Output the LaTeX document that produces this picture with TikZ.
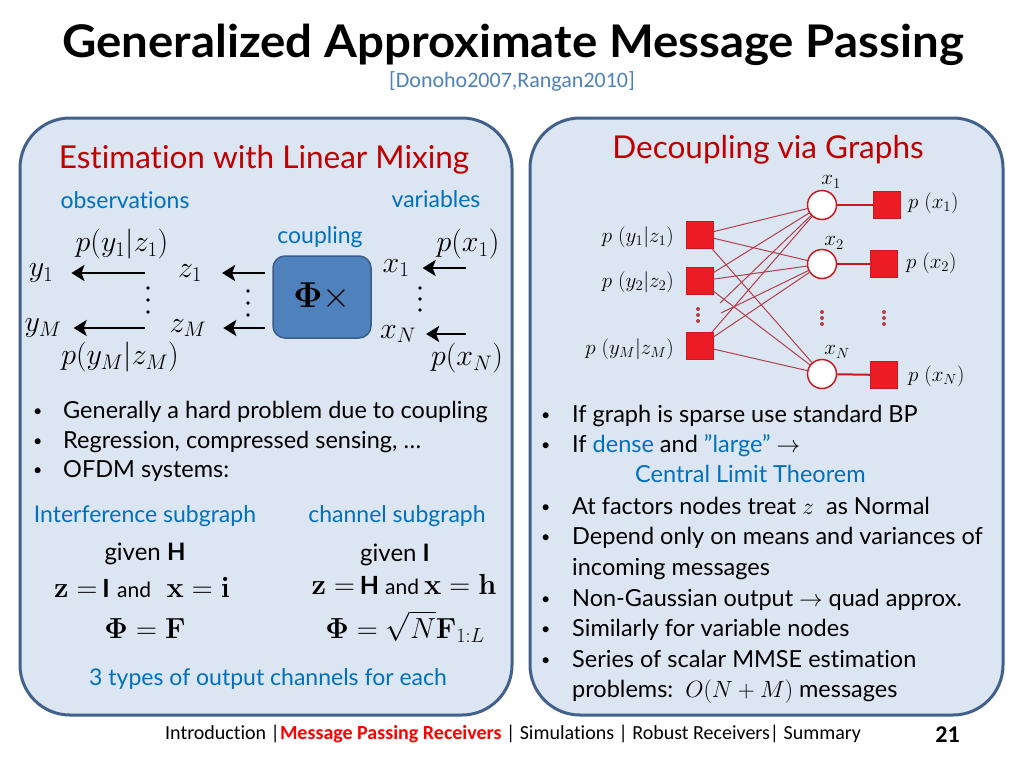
\documentclass[tikz,border=0pt]{standalone}
\usepackage{fix-cm}
\usepackage{amsmath,amssymb}
\usepackage{graphicx}
\usepackage[no-math]{fontspec}
\setmainfont{Lato}[Ligatures=NoCommon]
\newfontfamily\calib{Carlito}[Ligatures=NoCommon]
\usetikzlibrary{arrows.meta}
\newcommand{\fs}[1]{\fontsize{#1}{#1}\selectfont}
\definecolor{panelfill}{HTML}{DCE6F2}
\definecolor{panelline}{HTML}{41618C}
\definecolor{titlered}{HTML}{C00000}
\definecolor{txtblue}{HTML}{0070C0}
\definecolor{citeblue}{HTML}{4F81BD}
\definecolor{boxfill}{HTML}{4F81BD}
\definecolor{boxline}{HTML}{385D8A}
\definecolor{facred}{HTML}{EC1C24}
\definecolor{edgered}{HTML}{B0404A}
\definecolor{footred}{HTML}{FF0000}
\begin{document}
\begin{tikzpicture}[x=1pt,y=-1pt,
  panel/.style={draw=panelline, line width=3pt, fill=panelfill, rounded corners=50pt, inner sep=0},
  ptitle/.style={text=titlered, font=\fs{31.5}, inner sep=0, anchor=base},
  btxt/.style={text=txtblue, font=\fs{23}, inner sep=0, anchor=base},
  body/.style={font=\fs{23.5}, inner sep=0, anchor=base west},
  plain/.style={font=\fs{24}, inner sep=0, anchor=base},
  mth/.style={font=\fs{30}, inner sep=0},
  arr/.style={line width=2.8pt, -{Stealth[length=13pt,width=16pt,inset=3pt]}},
  fac/.style={fill=facred, draw=facred!85!black, line width=0.6pt, minimum size=27pt, inner sep=0},
  var/.style={circle, draw=facred!85!black, line width=1.5pt, fill=white, minimum size=29pt, inner sep=0},
  gedge/.style={draw=edgered, line width=1pt},
  pedge/.style={draw=facred!85!black, line width=2pt},
  glab/.style={font=\fs{21}, inner sep=0},
  bdot/.style={fill=black},
  rdot/.style={fill=edgered}
]
\useasboundingbox (0,0) rectangle (1024,768);
\fill[white] (0,0) rectangle (1024,768);

% title
\node[font=\bfseries\fs{45}, inner sep=0, anchor=base] (title) at (513,58) {\scalebox{1.054}[1]{Generalized Approximate Message Passing}};
\node[font=\calib\fs{22}, text=citeblue, inner sep=0, anchor=base] (cite) at (512,87) {[Donoho2007,Rangan2010]};

% panels
\node[panel, minimum width=492pt, minimum height=597pt] (lp) at (266,416.5) {};
\node[panel, minimum width=473pt, minimum height=597pt] (rp) at (766.5,416.5) {};

% ---------- left panel ----------
\node[ptitle] (lt) at (264,168) {Estimation with Linear Mixing};
\node[btxt] (obs) at (125,208) {observations};
\node[btxt] (vars) at (436,207) {variables};
\node[btxt] (coup) at (320,243) {coupling};

\node[mth] (py1) at (122,244) {$p(y_1|z_1)$};
\node[mth] (y1) at (41,273) {$y_1$};
\node[mth] (z1) at (190,273) {$z_1$};
\node[mth] (yM) at (43,328) {$y_M$};
\node[mth] (zM) at (188,328) {$z_M$};
\node[mth] (pyM) at (120,357) {$p(y_M|z_M)$};
\foreach \yy in {288,300,312} \fill[bdot] (148,\yy) circle (1.9pt);
\foreach \yy in {291,303,315} \fill[bdot] (248,\yy) circle (1.9pt);
\foreach \yy in {288,299,310} \fill[bdot] (420,\yy) circle (1.9pt);
\node[draw=boxline, fill=boxfill, line width=1.5pt, rounded corners=12pt,
      minimum width=98pt, minimum height=82pt, inner sep=0, font=\fs{36}] (phi) at (322,297) {$\mathbf{\Phi}\times$};
\node[mth] (x1) at (396,268) {$x_1$};
\node[mth] (xN) at (398,334) {$x_N$};
\node[mth] (px1) at (468,244) {$p(x_1)$};
\node[mth] (pxN) at (467,358) {$p(x_N)$};
\coordinate (t1) at (466,268);
\coordinate (tN) at (466,334);

\draw[arr, shorten <=33pt, shorten >=18pt] (z1.west) -- (y1.east);
\draw[arr, shorten <=25pt, shorten >=12pt] (zM.west |- yM) -- (yM.east);
\draw[arr, shorten <=7pt, shorten >=20pt] (phi.west |- z1) -- (z1.east);
\draw[arr, shorten <=7pt, shorten >=17pt] (phi.west |- zM) -- (zM.east);
\draw[arr, shorten >=13pt] (t1) -- (x1.east);
\draw[arr, shorten >=10pt] (tN) -- (xN.east);

\node[body] (lb1) at (33,418) {\makebox[30pt][l]{\fs{16}\raisebox{2pt}{•}}Generally a hard problem due to coupling};
\node[body] (lb2) at (33,448) {\makebox[30pt][l]{\fs{16}\raisebox{2pt}{•}}Regression, compressed sensing, …};
\node[body] (lb3) at (33,477) {\makebox[30pt][l]{\fs{16}\raisebox{2pt}{•}}OFDM systems:};

\node[btxt] (intf) at (145,522) {Interference subgraph};
\node[btxt] (chan) at (397,522) {channel subgraph};
\node[plain] (gH) at (145,560) {given \textbf{H}};
\node[plain] (gI) at (395,561) {given \textbf{I}};
\node[plain, font=\fs{29}] (eq1) at (142,597) {$\mathbf{z}=\,${\fs{25}\textbf{I}} {\fs{21}and} $\;\mathbf{x}=\mathbf{i}$};
\node[plain, font=\fs{29}] (eq2) at (404,594) {$\mathbf{z}=\,${\fs{25}\textbf{H}}\hspace{6pt}{\fs{21}and}\hspace{5pt}$\mathbf{x}=\mathbf{h}$};
\node[plain, font=\fs{29}] (phF) at (145,638) {$\mathbf{\Phi}=\mathbf{F}$};
\node[plain, font=\fs{29}] (phN) at (405,638) {$\mathbf{\Phi}=\sqrt{N}\mathbf{F}_{1:L}$};
\node[btxt] (types) at (268,685) {3 types of output channels for each};

% ---------- right panel ----------
\node[ptitle] (rt) at (768,158) {Decoupling via Graphs};

\node[fac] (fy1) at (700,235) {};
\node[fac] (fy2) at (700,281) {};
\node[fac] (fyM) at (700,346) {};
\node[var] (vx1) at (822,205) {};
\node[var] (vx2) at (822,264) {};
\node[var] (vxN) at (822,374) {};
\node[fac] (qx1) at (887,205) {};
\node[fac] (qx2) at (884,264) {};
\node[fac] (qxN) at (884,375) {};
\coordinate (s1) at (720,303);
\coordinate (s2) at (721,313);

\foreach \f in {fy1,fy2,fyM}{
  \foreach \v in {vx1,vx2,vxN}{
    \draw[gedge] (\f) -- (\v);
  }
}
\draw[gedge] (s1) -- (vx1);
\draw[gedge] (s2) -- (vx2);
\draw[pedge] (vx1) -- (qx1);
\draw[pedge] (vx2) -- (qx2);
\draw[pedge] (vxN) -- (qxN);

\foreach \yy in {309,315,321} \fill[rdot] (698,\yy) circle (2pt);
\foreach \yy in {312,318,324} {
  \fill[rdot] (822,\yy) circle (2pt);
  \fill[rdot] (884,\yy) circle (2pt);
}

\node[glab, anchor=east] (ly1) at (674,237) {$p\;(y_1|z_1)$};
\node[glab, anchor=east] (ly2) at (674,282) {$p\;(y_2|z_2)$};
\node[glab, anchor=east] (lyM) at (674,349) {$p\;(y_M|z_M)$};
\node[glab] (lx1) at (831,182) {$x_1$};
\node[glab] (lx2) at (834,243) {$x_2$};
\node[glab] (lxN) at (837,352) {$x_N$};
\node[glab, anchor=west] (lp1) at (908,203) {$p\;(x_1)$};
\node[glab, anchor=west] (lp2) at (906,263) {$p\;(x_2)$};
\node[glab, anchor=west] (lpN) at (908,376) {$p\;(x_N)$};

\node[body] (rb1) at (541,422) {\makebox[31pt][l]{\fs{16}\raisebox{2pt}{•}}If graph is sparse use standard BP};
\node[body] (rb2) at (541,452) {\makebox[31pt][l]{\fs{16}\raisebox{2pt}{•}}If \textcolor{txtblue}{dense} and \textcolor{txtblue}{”large”} $\rightarrow$};
\node[body, text=txtblue] (rb3) at (635,482) {Central Limit Theorem};
\node[body] (rb4) at (541,514) {\makebox[31pt][l]{\fs{16}\raisebox{2pt}{•}}At factors nodes treat $z$\ \ as Normal};
\node[body] (rb5) at (541,544) {\makebox[31pt][l]{\fs{16}\raisebox{2pt}{•}}Depend only on means and variances of};
\node[body] (rb6) at (572,575) {incoming messages};
\node[body] (rb7) at (541,606) {\makebox[31pt][l]{\fs{16}\raisebox{2pt}{•}}Non-Gaussian output $\rightarrow$ quad approx.};
\node[body] (rb8) at (541,636) {\makebox[31pt][l]{\fs{16}\raisebox{2pt}{•}}Similarly for variable nodes};
\node[body] (rb9) at (541,667) {\makebox[31pt][l]{\fs{16}\raisebox{2pt}{•}}Series of scalar MMSE estimation};
\node[body] (rb10) at (572,697) {problems:\ \ $O(N+M)$ messages};

% footer
\node[font=\calib\fs{20}, inner sep=0, anchor=base west] (foot) at (165,739) {Introduction |\textcolor{footred}{\textbf{Message Passing Receivers}} | Simulations | Robust Receivers| Summary};
\node[font=\calib\bfseries\fs{24}, inner sep=0, anchor=base east] (pg) at (960,742) {21};
\end{tikzpicture}
\end{document}
